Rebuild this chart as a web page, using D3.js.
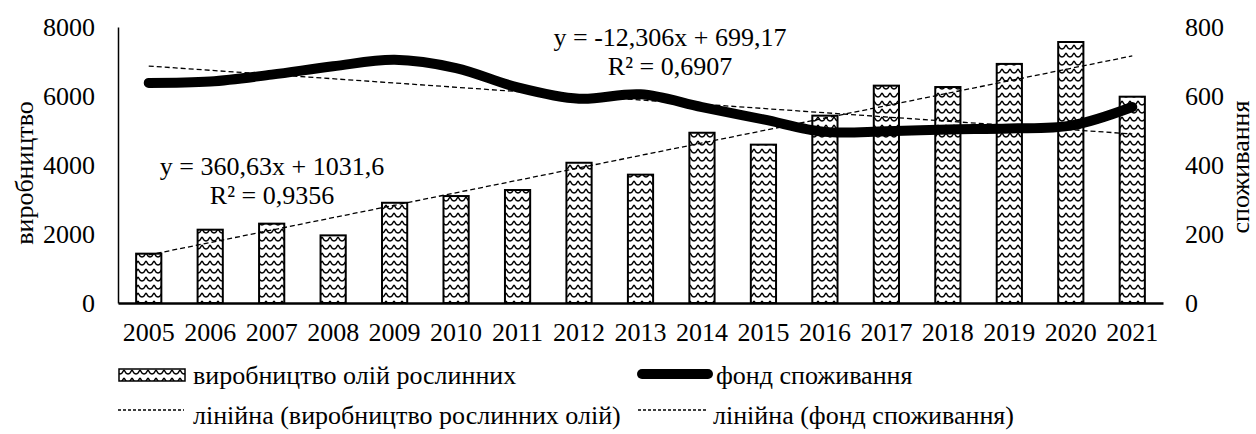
<!DOCTYPE html>
<html>
<head>
<meta charset="utf-8">
<script src="https://cdn.jsdelivr.net/npm/d3@7"></script>
<style>
  body { margin: 0; background: #fff; }
  svg text { font-family: "Liberation Serif", "DejaVu Serif", serif !important; fill: #000; }
</style>
</head>
<body>
<div id="chart"></div>
<script>
// data
var years = ["2005","2006","2007","2008","2009","2010","2011","2012","2013",
             "2014","2015","2016","2017","2018","2019","2020","2021"];
var production = [1430, 2125, 2300, 1960, 2905, 3100, 3275, 4065, 3720,
                  4935, 4590, 5430, 6300, 6260, 6930, 7565, 5980];
var consumption = [638, 642, 662, 686, 705, 681, 625, 592, 605,
                   568, 532, 496, 498, 503, 506, 514, 568];
var leftTicks = [0, 2000, 4000, 6000, 8000];
var rightTicks = [0, 200, 400, 600, 800];
// trend equations as printed on the chart: [slope, intercept]
var prodTrend = [360.63, 1031.6];
var consTrend = [-12.306, 699.17];
var prodLabel = ["y = 360,63x + 1031,6", "R² = 0,9356"];
var consLabel = ["y = -12,306x + 699,17", "R² = 0,6907"];
var legendNames = ["виробництво олій рослинних", "фонд споживання",
                   "лінійна (виробництво рослинних олій)", "лінійна (фонд споживання)"];

var width = 1256, height = 434;
var margin = {top: 27, right: 93, bottom: 131, left: 118};
var chartWidth = width - margin.left - margin.right;
var chartHeight = height - margin.top - margin.bottom;
var serif = '"Liberation Serif", "DejaVu Serif", serif';

var svg = d3.select("#chart").append("svg")
    .attr("width", width)
    .attr("height", height)
    .attr("font-family", serif);

// wave fill for the bars
var defs = svg.append("defs");
var pat = defs.append("pattern")
    .attr("id", "wave")
    .attr("patternUnits", "userSpaceOnUse")
    .attr("width", 8)
    .attr("height", 8);
pat.append("rect").attr("width", 8).attr("height", 8).attr("fill", "#fff");
pat.append("path")
    .attr("d", "M0,6 Q2,6 3,3.5 Q4,1 5,3.5 Q6,6 8,6")
    .attr("fill", "none")
    .attr("stroke", "#000")
    .attr("stroke-width", 1.5);

var chartGroup = svg.append("g")
    .attr("transform", `translate(${margin.left}, ${margin.top})`);

var xScale = d3.scaleBand()
    .domain(years)
    .range([0, chartWidth])
    .paddingInner(0.59)
    .paddingOuter(0.295);

var yLeft = d3.scaleLinear().domain([0, 8000]).range([chartHeight, 0]);
var yRight = d3.scaleLinear().domain([0, 800]).range([chartHeight, 0]);

var xCenter = d => xScale(d) + xScale.bandwidth() / 2;

// axes
var xAxis = d3.axisBottom(xScale).tickSize(0).tickPadding(20);
var leftAxis = d3.axisLeft(yLeft).tickValues(leftTicks).tickFormat(d3.format("d"))
    .tickSize(0).tickPadding(23);
var rightAxis = d3.axisRight(yRight).tickValues(rightTicks).tickFormat(d3.format("d"))
    .tickSize(0).tickPadding(22);

var gx = chartGroup.append("g")
    .attr("transform", `translate(0, ${chartHeight})`)
    .call(xAxis);
var gl = chartGroup.append("g").call(leftAxis);
var gr = chartGroup.append("g")
    .attr("transform", `translate(${chartWidth}, 0)`)
    .call(rightAxis);

[gx, gl, gr].forEach(function(g) {
    g.attr("font-family", serif).attr("font-size", 26);
    g.selectAll("text").style("font-family", serif).style("font-size", "26px");
});
gr.select(".domain").remove();
gl.select(".domain").attr("stroke", "#000").attr("stroke-width", 1.5);
gx.select(".domain").attr("stroke", "#000").attr("stroke-width", 2.5);

// bars
chartGroup.selectAll("rect.bar")
    .data(production)
    .enter()
    .append("rect")
    .attr("class", "bar")
    .attr("x", (d, i) => xScale(years[i]))
    .attr("y", d => yLeft(d))
    .attr("width", xScale.bandwidth())
    .attr("height", d => chartHeight - yLeft(d))
    .attr("fill", "url(#wave)")
    .attr("stroke", "#000")
    .attr("stroke-width", 2);

// trend lines
var trend = function(coef, scale) {
    return [1, years.length].map(function(n) {
        return [xCenter(years[n - 1]), scale(coef[0] * n + coef[1])];
    });
};
chartGroup.append("path")
    .attr("d", d3.line()(trend(prodTrend, yLeft)))
    .attr("fill", "none")
    .attr("stroke", "#000")
    .attr("stroke-width", 1.3)
    .attr("stroke-dasharray", "5,3");

// consumption line
var line = d3.line()
    .x((d, i) => xCenter(years[i]))
    .y(d => yRight(d))
    .curve(d3.curveCatmullRom.alpha(0.5));
chartGroup.append("path")
    .datum(consumption)
    .attr("d", line)
    .attr("fill", "none")
    .attr("stroke", "#000")
    .attr("stroke-width", 10)
    .attr("stroke-linecap", "round");

chartGroup.append("path")
    .attr("d", d3.line()(trend(consTrend, yRight)))
    .attr("fill", "none")
    .attr("stroke", "#000")
    .attr("stroke-width", 1.3)
    .attr("stroke-dasharray", "5,3");

// equation labels
function eqLabel(lines, cx, y) {
    var t = svg.append("text")
        .attr("text-anchor", "middle")
        .style("font-size", "26px");
    lines.forEach(function(s, i) {
        t.append("tspan").attr("x", cx).attr("y", y + i * 29).text(s);
    });
}
eqLabel(prodLabel, 272, 175);
eqLabel(consLabel, 670, 46);

// axis titles
svg.append("text")
    .attr("transform", "translate(33, 173) rotate(-90)")
    .attr("text-anchor", "middle")
    .style("font-size", "26px")
    .text("виробництво");
svg.append("text")
    .attr("transform", "translate(1249, 167) rotate(-90)")
    .attr("text-anchor", "middle")
    .style("font-size", "26px")
    .text("споживання");

// legend
var lg = svg.append("g");
lg.append("rect")
    .attr("x", 119).attr("y", 369).attr("width", 66).attr("height", 12)
    .attr("fill", "url(#wave)").attr("stroke", "#000").attr("stroke-width", 1.5);
lg.append("text").attr("x", 193).attr("y", 384).style("font-size", "26px").text(legendNames[0]);
lg.append("line")
    .attr("x1", 642).attr("x2", 708).attr("y1", 374).attr("y2", 374)
    .attr("stroke", "#000").attr("stroke-width", 10).attr("stroke-linecap", "round");
lg.append("text").attr("x", 716).attr("y", 384).style("font-size", "26px").text(legendNames[1]);
lg.append("line")
    .attr("x1", 118).attr("x2", 184).attr("y1", 410).attr("y2", 410)
    .attr("stroke", "#000").attr("stroke-width", 1.3).attr("stroke-dasharray", "3,2");
lg.append("text").attr("x", 193).attr("y", 424).style("font-size", "26px").text(legendNames[2]);
lg.append("line")
    .attr("x1", 638).attr("x2", 706).attr("y1", 410).attr("y2", 410)
    .attr("stroke", "#000").attr("stroke-width", 1.3).attr("stroke-dasharray", "3,2");
lg.append("text").attr("x", 713).attr("y", 424).style("font-size", "26px").text(legendNames[3]);
</script>
</body>
</html>
